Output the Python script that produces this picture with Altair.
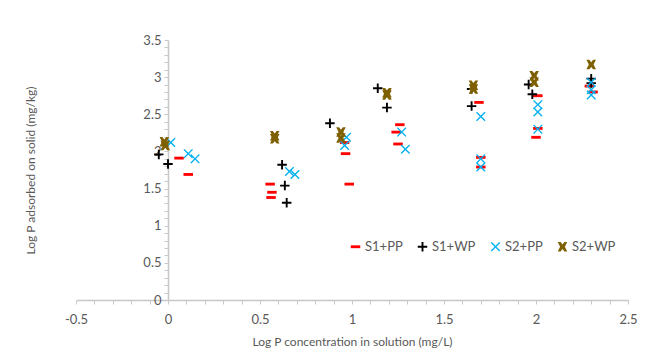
import altair as alt
import pandas as pd

series_names = ["S1+PP", "S1+WP", "S2+PP", "S2+WP"]

s1pp_x = [0.06, 0.11, 0.555, 0.565, 0.56, 0.96, 0.965, 0.985, 1.26, 1.24, 1.25, 1.69, 1.70, 1.70, 2.01, 2.01, 2.00, 2.29, 2.31]
s1pp_y = [1.91, 1.69, 1.56, 1.45, 1.38, 2.12, 1.97, 1.56, 2.36, 2.26, 2.10, 2.66, 1.92, 1.79, 2.75, 2.31, 2.19, 2.88, 2.80]

s1wp_x = [-0.05, 0.0, 0.62, 0.635, 0.645, 0.88, 1.14, 1.19, 1.65, 1.65, 1.96, 1.98, 2.30, 2.30]
s1wp_y = [1.96, 1.83, 1.82, 1.54, 1.31, 2.38, 2.85, 2.59, 2.84, 2.61, 2.90, 2.77, 2.98, 2.92]

s2pp_x = [0.015, 0.11, 0.147, 0.66, 0.69, 0.97, 0.96, 1.27, 1.29, 1.70, 1.70, 1.70, 2.01, 2.01, 2.01, 2.30, 2.30, 2.30]
s2pp_y = [2.12, 1.97, 1.90, 1.73, 1.69, 2.19, 2.08, 2.26, 2.03, 2.47, 1.90, 1.79, 2.63, 2.53, 2.30, 2.93, 2.83, 2.76]

s2wp_x = [-0.02, -0.015, 0.58, 0.58, 0.94, 0.94, 1.19, 1.19, 1.66, 1.66, 1.99, 1.99, 2.30]
s2wp_y = [2.13, 2.08, 2.21, 2.17, 2.26, 2.18, 2.79, 2.76, 2.89, 2.84, 3.02, 2.93, 3.17]

x_ticks = [round(-0.5 + 0.1 * i, 1) for i in range(31)]
y_ticks = [round(0.1 * i, 1) for i in range(36)]

rows = []
for name, xs, ys in zip(series_names,
                        [s1pp_x, s1wp_x, s2pp_x, s2wp_x],
                        [s1pp_y, s1wp_y, s2pp_y, s2wp_y]):
    for xv, yv in zip(xs, ys):
        rows.append({"series": name, "x": xv, "y": yv})
df = pd.DataFrame(rows)

dash = "M-1,-0.3H1V0.3H-1Z"
plus = "M-0.2,-1H0.2V-0.2H1V0.2H0.2V1H-0.2V0.2H-1V-0.2H-0.2Z"
xmark = "M-1,-0.8L-0.8,-1L0,-0.2L0.8,-1L1,-0.8L0.2,0L1,0.8L0.8,1L0,0.2L-0.8,1L-1,0.8L-0.2,0Z"
star = "M-1,-1L-0.4,-1L0,-0.5L0.4,-1L1,-1L0.5,0L1,1L0.4,1L0,0.5L-0.4,1L-1,1L-0.5,0Z"

colors = ["#ff0000", "#000000", "#00b0f0", "#7f6000"]
shapes = [dash, plus, xmark, star]

label_expr = "abs(datum.value*2 - round(datum.value*2)) < 0.000001 ? '' + round(datum.value*10)/10 : ''"

font = "Lato"
gray = "#595959"

chart = alt.Chart(df).mark_point(filled=True, opacity=1, size=90).encode(
    x=alt.X("x:Q",
            scale=alt.Scale(domain=[-0.5, 2.5], nice=False, zero=False),
            axis=alt.Axis(values=x_ticks, labelExpr=label_expr, grid=False,
                          title="Log P concentration in solution (mg/L)",
                          domainColor="#c8c8c8", domainWidth=1.5,
                          tickColor="#c8c8c8", tickSize=4, tickWidth=1,
                          labelColor=gray, labelFont=font, labelFontSize=13,
                          labelPadding=9, labelFlush=False,
                          titleColor=gray, titleFont=font, titleFontSize=12,
                          titleFontWeight="normal", titlePadding=10)),
    y=alt.Y("y:Q",
            scale=alt.Scale(domain=[0, 3.5], nice=False),
            axis=alt.Axis(values=y_ticks, labelExpr=label_expr, grid=False,
                          offset=-92,
                          title="Log P adsorbed on solid (mg/kg)",
                          domainColor="#c8c8c8", domainWidth=1.5,
                          tickColor="#c8c8c8", tickSize=4, tickWidth=1,
                          labelColor=gray, labelFont=font, labelFontSize=13,
                          labelPadding=3, labelFlush=False,
                          titleColor=gray, titleFont=font, titleFontSize=12,
                          titleFontWeight="normal",
                          titleX=-138, titleY=130, titleAngle=-90,
                          titleAlign="center", titleBaseline="middle")),
    color=alt.Color("series:N",
                    scale=alt.Scale(domain=series_names, range=colors),
                    legend=alt.Legend(title=None, orient="none", legendX=273, legendY=200,
                                      direction="horizontal", columns=4,
                                      columnPadding=13, symbolSize=90,
                                      labelFont=font, labelFontSize=13, labelColor=gray,
                                      labelOffset=3)),
    shape=alt.Shape("series:N",
                    scale=alt.Scale(domain=series_names, range=shapes)),
).properties(
    width=552, height=260,
    autosize=alt.AutoSizeParams(type="none"),
    padding={"left": 76, "top": 40, "right": 21, "bottom": 64},
).configure_view(stroke=None)

chart.save("out.html", embed_options={"renderer": "svg", "actions": False})
